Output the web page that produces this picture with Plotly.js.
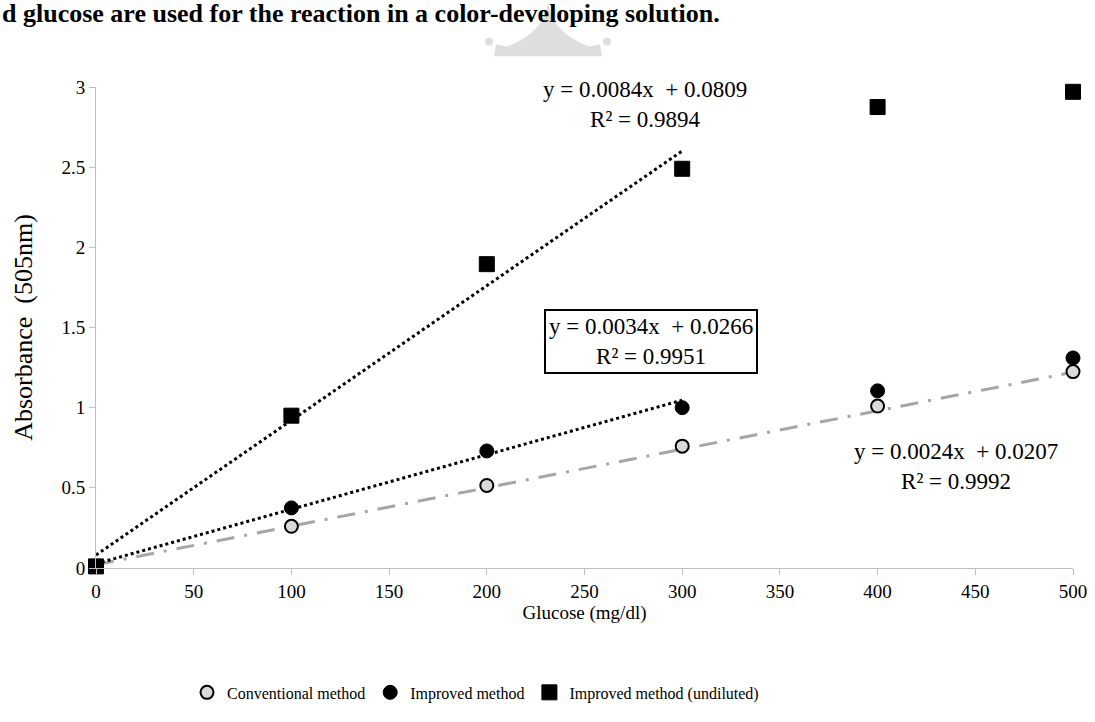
<!DOCTYPE html>
<html>
<head>
<meta charset="utf-8">
<script src="https://cdn.plot.ly/plotly-3.0.1.min.js"></script>
<style>
  html, body { margin: 0; padding: 0; background: #ffffff; }
  #chart { width: 1095px; height: 722px; }
</style>
</head>
<body>
<div id="chart"></div>
<script>
// ---- Data ----
const glucose = [0, 100, 200, 300, 400, 500];
const conventional = [0.01, 0.26, 0.515, 0.76, 1.01, 1.225];
const improved = [0.01, 0.375, 0.73, 1.0, 1.105, 1.31];
const undiluted = [0.01, 0.95, 1.895, 2.49, 2.875, 2.97];

const seriesNames = ["Conventional method", "Improved method", "Improved method (undiluted)"];

// Linear trendlines as labelled on the chart (slope, intercept, fitted x-range)
const trendSlopes = [0.0024, 0.0034, 0.0084];
const trendIntercepts = [0.0207, 0.0266, 0.0809];
const trendRangeX = [[0, 500], [0, 300], [0, 300]];
const trendEquations = [
  "y = 0.0024x  + 0.0207<br>R² = 0.9992",
  "y = 0.0034x  + 0.0266<br>R² = 0.9951",
  "y = 0.0084x  + 0.0809<br>R² = 0.9894"
];
const headerText = "d glucose are used for the reaction in a color-developing solution.";

const xTicks = [0, 50, 100, 150, 200, 250, 300, 350, 400, 450, 500];
const yTicks = [0, 0.5, 1, 1.5, 2, 2.5, 3];

// ---- Layout constants ----
const W = 1095, H = 722;
const M = {l: 96, r: 22, t: 87, b: 148};
const PW = W - M.l - M.r, PH = H - M.t - M.b;
const px2x = p => (p - M.l) / PW;      // pixel -> paper x
const py2y = p => (H - M.b - p) / PH;  // pixel -> paper y

const FONT = "Liberation Serif, Times New Roman, serif";

function trendTrace(i, style) {
  const xs = trendRangeX[i];
  return Object.assign({
    x: xs,
    y: xs.map(v => trendSlopes[i] * v + trendIntercepts[i]),
    mode: "lines",
    showlegend: false,
    hoverinfo: "skip",
    cliponaxis: false
  }, style);
}

const traces = [
  trendTrace(0, {line: {color: "#a6a6a6", width: 3, dash: "18px,10px,3px,10px"}}),
  trendTrace(1, {line: {color: "#000000", width: 3, dash: "3px,3px"}}),
  trendTrace(2, {line: {color: "#000000", width: 3, dash: "3px,3px"}}),
  {
    x: glucose, y: conventional, name: seriesNames[0], mode: "markers", cliponaxis: false,
    marker: {symbol: "circle", size: 13, color: "#d9d9d9", line: {color: "#000000", width: 2}}
  },
  {
    x: glucose, y: improved, name: seriesNames[1], mode: "markers", cliponaxis: false,
    marker: {symbol: "circle", size: 14, color: "#000000", line: {color: "#000000", width: 1}}
  },
  {
    x: glucose, y: undiluted, name: seriesNames[2], mode: "markers", cliponaxis: false,
    marker: {symbol: "square", size: 15, color: "#000000", line: {color: "#000000", width: 1}}
  }
];

// crown-shaped faint watermark near the top (decorative, as in the reference)
function P(x, y) { return px2x(x).toFixed(4) + "," + py2y(y).toFixed(4); }
const crownPath =
  "M" + P(548, 0) +
  " Q" + P(545, 32) + " " + P(507, 46) +
  " L" + P(496, 44) + " L" + P(494, 56) + " L" + P(602, 56) +
  " L" + P(600, 44) + " L" + P(589, 46) +
  " Q" + P(551, 32) + " " + P(548, 0) + " Z";

const layout = {
  width: W, height: H,
  margin: M,
  paper_bgcolor: "#ffffff",
  plot_bgcolor: "#ffffff",
  font: {family: FONT, color: "#000000", size: 19},
  showlegend: true,
  legend: {
    orientation: "h",
    x: px2x(187), xanchor: "left",
    y: py2y(700), yanchor: "middle",
    font: {family: FONT, size: 16, color: "#000000"},
    itemwidth: 30,
    tracegroupgap: 0
  },
  xaxis: {
    range: [0, 500],
    tickvals: xTicks,
    ticktext: xTicks.map(String),
    showgrid: false, zeroline: false,
    showline: true, linecolor: "#bfbfbf", linewidth: 1,
    ticks: "outside", ticklen: 6, tickcolor: "#bfbfbf",
    tickfont: {family: FONT, size: 19},
    title: {text: "Glucose (mg/dl)", font: {family: FONT, size: 19}, standoff: 3},
    fixedrange: true
  },
  yaxis: {
    range: [0, 3],
    tickvals: yTicks,
    ticktext: yTicks.map(String),
    showgrid: false, zeroline: false,
    showline: true, linecolor: "#bfbfbf", linewidth: 1,
    ticks: "outside", ticklen: 6, tickcolor: "#bfbfbf",
    tickfont: {family: FONT, size: 19},
    title: {text: "Absorbance  (505nm)", font: {family: FONT, size: 26}, standoff: 21},
    fixedrange: true
  },
  shapes: [
    {type: "path", xref: "paper", yref: "paper", path: crownPath,
     fillcolor: "#dedede", line: {width: 0}, layer: "below"},
    {type: "circle", xref: "paper", yref: "paper",
     x0: px2x(485), x1: px2x(493), y0: py2y(45), y1: py2y(37),
     fillcolor: "#dedede", line: {width: 0}, layer: "below"},
    {type: "circle", xref: "paper", yref: "paper",
     x0: px2x(603), x1: px2x(611), y0: py2y(45), y1: py2y(37),
     fillcolor: "#dedede", line: {width: 0}, layer: "below"}
  ],
  annotations: [
    {
      xref: "paper", yref: "paper",
      x: px2x(0), y: py2y(0), xanchor: "left", yanchor: "top", yshift: 4,
      text: "<b>" + headerText + "</b>", showarrow: false,
      font: {family: FONT, size: 26, color: "#000000"}
    },
    {
      xref: "x", yref: "y", x: 281, y: 2.89,
      text: trendEquations[2], showarrow: false, align: "center",
      font: {family: FONT, size: 23, color: "#000000"}
    },
    {
      xref: "x", yref: "y", x: 284, y: 1.415,
      text: trendEquations[1], showarrow: false, align: "center",
      bordercolor: "#000000", borderwidth: 2, borderpad: 3, bgcolor: "#ffffff",
      font: {family: FONT, size: 23, color: "#000000"}
    },
    {
      xref: "x", yref: "y", x: 440, y: 0.63,
      text: trendEquations[0], showarrow: false, align: "center",
      font: {family: FONT, size: 23, color: "#000000"}
    }
  ]
};

Plotly.newPlot("chart", traces, layout, {displayModeBar: false, staticPlot: true});
</script>
</body>
</html>
